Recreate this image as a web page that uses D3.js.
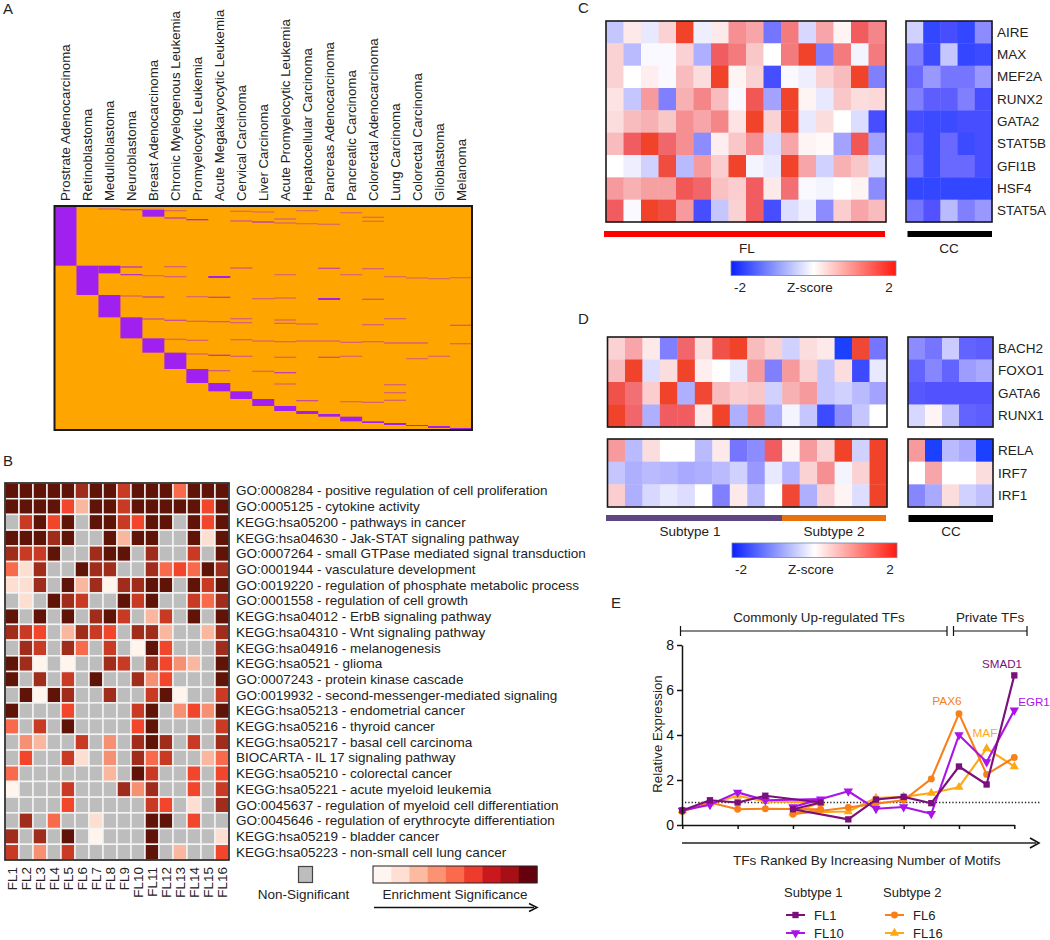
<!DOCTYPE html>
<html><head><meta charset="utf-8">
<script src="https://cdn.jsdelivr.net/npm/d3@7/dist/d3.min.js"></script>
<style>html,body{margin:0;padding:0;background:#fff}svg{display:block}text{font-family:"Liberation Sans",Arial,sans-serif;fill:#222}</style>
</head><body><svg id="c" width="1050" height="940"></svg>
<script>
// ---------- Panel A data ----------
const cancers=["Prostrate Adenocarcinoma","Retinoblastoma","Medulloblastoma","Neuroblastoma","Breast Adenocarcinoma","Chronic Myelogenous Leukemia","Promyelocytic Leukemia","Acute Megakaryocytic Leukemia","Cervical Carcinoma","Liver Carcinoma","Acute Promyelocytic Leukemia","Hepatocellular Carcinoma","Pancreas Adenocarcinoma","Pancreatic Carcinoma","Colorectal Adenocarcinoma","Lung Carcinoma","Colorectal Carcinoma","Glioblastoma","Melanoma"];
const geneRowCount=672;
// [cancer index, first gene row, last gene row]
const geneBlocks=[[0,0,179],[1,179,267],[2,179,202],[2,267,334],[3,334,397],[4,12,32],[4,397,440],[5,440,489],[6,489,531],[7,531,556],[8,556,579],[9,579,600],[10,600,615],[11,615,624],[12,624,632],[13,632,646],[14,646,651],[15,651,657],[16,657,660],[17,660,666],[18,666,671]];
// [cancer index, gene row, membership strength 0-1]
const geneStreaks=[[2,7,.5],[3,9,.8],[4,8,.45],[5,12,.45],[8,14,.45],[9,16,.45],[11,12,.45],[13,18,.45],[14,32,.45],[14,44,.45],[8,43,.6],[9,46,.9],[10,37,.5],[10,49,.5],[11,51,.45],[12,53,.45],[5,34,.8],[6,39,1],
[3,181,.9],[5,180,.5],[8,184,.6],[12,185,.7],[14,186,.5],[13,204,.45],[10,204,.45],[3,204,.9],[4,207,.45],[5,210,.5],[7,210,1.2],[15,210,.45],[16,214,.45],[17,216,.45],[18,213,.45],
[3,268,.5],[4,271,.8],[6,270,.45],[7,272,.8],[9,276,.5],[10,274,.5],[12,276,1.2],[14,278,.6],
[4,337,.7],[5,341,.7],[6,344,.5],[7,345,.6],[8,336,.5],[8,348,.5],[10,340,.5],[10,350,.5],[11,352,.5],[14,354,.5],[15,336,.5],[18,356,.6],
[5,398,.5],[6,401,.5],[8,399,.5],[9,403,.5],[10,405,.5],[11,403,.5],[12,403,.5],[13,407,.5],[14,405,.5],[15,409,.6],[16,409,.6],[18,411,.5],
[6,442,.5],[7,446,.9],[8,449,.5],[10,452,.5],[12,452,.7],[13,449,.45],[16,456,.45],[17,449,.45],
[7,492,.6],[9,494,.5],[10,498,.8],[10,532,.5],[15,534,.5],[15,558,.5],[15,581,.5],[11,582,.7],[13,585,.5],[14,587,.5]];

// ---------- Panel B data ----------
const samplesB=["FL1","FL2","FL3","FL4","FL5","FL6","FL7","FL8","FL9","FL10","FL11","FL12","FL13","FL14","FL15","FL16"];
const termsB=["GO:0008284 - positive regulation of cell proliferation","GO:0005125 - cytokine activity","KEGG:hsa05200 - pathways in cancer","KEGG:hsa04630 - Jak-STAT signaling pathway","GO:0007264 - small GTPase mediated signal transduction","GO:0001944 - vasculature development","GO:0019220 - regulation of phosphate metabolic process","GO:0001558 - regulation of cell growth","KEGG:hsa04012 - ErbB signaling pathway","KEGG:hsa04310 - Wnt signaling pathway","KEGG:hsa04916 - melanogenesis","KEGG:hsa0521 - glioma","GO:0007243 - protein kinase cascade","GO:0019932 - second-messenger-mediated signaling","KEGG:hsa05213 - endometrial cancer","KEGG:hsa05216 - thyroid cancer","KEGG:hsa05217 - basal cell carcinoma","BIOCARTA - IL 17 signaling pathway","KEGG:hsa05210 - colorectal cancer","KEGG:hsa05221 - acute myeloid leukemia","GO:0045637 - regulation of myeloid cell differentiation","GO:0045646 - regulation of erythrocyte differentiation","KEGG:hsa05219 - bladder cancer","KEGG:hsa05223 - non-small cell lung cancer"];
const _=-1; // non-significant
const enrichment=[
[8,8,8,8,8,7,8,8,6,8,8,8,4,8,8,8],
[8,8,8,8,5,2,8,8,6,8,8,8,8,8,5,8],
[_,6,8,5,8,_,8,8,6,5,8,8,_,8,5,8],
[8,8,8,7,8,_,_,8,2,8,8,_,_,8,1,8],
[7,6,6,8,_,_,7,8,8,_,7,_,_,6,_,8],
[4,1,7,_,_,8,7,7,_,_,7,4,5,4,8,7],
[1,1,7,_,8,2,7,0,7,7,8,8,_,8,6,8],
[_,1,_,8,7,6,_,_,8,6,8,_,_,6,4,7],
[8,_,8,_,8,_,7,8,6,_,2,6,_,8,_,8],
[7,6,5,_,2,7,6,5,_,7,7,2,_,_,2,7],
[_,7,6,_,7,4,_,6,_,0,8,5,_,_,_,7],
[8,7,0,_,0,_,_,7,6,_,7,5,3,2,_,8],
[8,_,7,_,6,_,8,_,_,7,3,5,_,_,_,8],
[_,8,0,8,7,_,_,7,_,_,6,8,0,_,_,6],
[8,_,_,_,5,_,_,_,_,6,8,_,3,5,3,8],
[4,_,6,_,8,_,_,_,_,5,8,_,_,_,_,6],
[_,3,2,_,_,6,_,3,_,7,8,7,_,6,_,7],
[_,5,_,_,6,1,_,3,_,7,4,6,_,_,2,4],
[4,_,_,_,_,_,_,2,_,8,6,_,_,5,_,5],
[0,_,_,_,6,_,_,_,7,3,7,_,_,5,_,6],
[_,_,_,_,5,_,_,_,_,_,6,5,_,1,_,7],
[_,7,_,4,_,_,1,_,_,_,8,8,_,5,_,_],
[7,_,7,_,8,_,0,_,_,_,8,_,_,_,_,1],
[6,_,3,_,6,_,_,_,_,_,8,_,2,_,_,5]];
const enrichPalette=["#fff5ed","#fddfd2","#fab79f","#f59072","#f76b4c","#f2462c","#c83a24","#a02c1c","#601407"];
const legendPalette=["#fff5f0","#fee0d2","#fcbba1","#fc9272","#fb6a4a","#ef3b2c","#cb181d","#a50f15","#67000d"];

// ---------- Panel C data ----------
const genesC=["AIRE","MAX","MEF2A","RUNX2","GATA2","STAT5B","GFI1B","HSF4","STAT5A"];
const zFL_C=[
[-.5,.2,-.2,.4,2,-.15,.2,1,.8,-1.2,1.2,-.35,.8,.1,1.5,1.1],
[.4,-.6,-.05,-.05,.4,-.7,1.5,1.2,.5,0,1.2,2,-1.1,1.2,-.1,1.2],
[.4,0,.15,-.05,.6,.3,2,.1,.4,-1.6,-.05,-.15,.4,.6,2,-1.1],
[.25,-.5,.9,-1.1,.7,1.1,.6,-.05,1.6,-.8,2,.1,-.2,.5,.3,.35],
[.3,.6,.7,.5,1,.8,1.1,.25,2,.4,2,-.2,.3,0,-.3,-1.6],
[.6,1.5,2,1.4,1,-1,.15,.5,1,-.3,.8,.1,.05,-.8,1.6,-.8],
[0,-.15,-.4,1.8,-.6,.9,.45,2,-.1,-.2,2,.8,-.4,.7,.5,-.3],
[.9,.7,.85,.85,1.6,1.4,.55,.45,1.5,.2,1.3,-.05,-.1,0,.1,-1],
[1.5,-.05,2,1.8,.9,-1.6,-.5,.4,1.5,-1.6,-.3,-.15,-1,.45,.8,.6]];
const zCC_C=[
[-.4,-1.8,-1.6,-1.8,-1],
[-1.1,-1.7,-.5,-1.8,-1.7],
[-1.3,-.9,-1.2,-1.2,-.9],
[-1.1,-1.4,-1.4,-1.1,-1.6],
[-1.6,-1.7,-1.7,-1.6,-1.6],
[-1.3,-1.7,-1.3,-1.7,-1.6],
[-1.2,-1.7,-1.3,-1.3,-1.6],
[-1.8,-1.8,-1.8,-1.8,-1.8],
[-1.2,-1.5,-.6,-1.1,-.9]];

// ---------- Panel D data ----------
const genesD1=["BACH2","FOXO1","GATA6","RUNX1"];
const genesD2=["RELA","IRF7","IRF1"];
const zFL_D1=[
[.4,.8,.2,-1.1,1.4,.3,1.7,2,.6,.4,-.4,.3,.2,-2,1.9,-1.2],
[.6,2,-.3,.3,2,.15,0,-.2,.9,-1.1,.9,.4,-.5,.3,-1.7,-.2],
[1.7,1.3,.45,2,-.7,1.9,.6,.45,.5,-.4,.7,.9,-.5,-.4,-.6,-.8],
[2,1.4,-.7,1.5,1.5,.2,2,-.7,1.1,-.7,-.1,-.5,-1.7,-1,-.5,0]];
const zCC_D1=[
[-1,-1.2,-.45,-1.35,-1.4],
[-1.35,-1.05,-1.35,-.85,-.75],
[-1.45,-1.5,-1.5,-1.5,-1.5],
[-.35,.1,-.55,-1.35,-1.4]];
const zFL_D2=[
[.9,-.6,.3,0,0,-.6,.2,-1.2,-1,1.5,.1,.9,.4,2,-.4,2],
[-.5,-.7,-.6,-.65,-.75,-.7,-.6,-.4,-.9,-.2,-.65,.4,1,-.1,.4,2],
[.45,-.7,-.35,-.2,-.3,0,-1.1,.2,-.6,0,1.9,-.7,.4,.1,-.3,2]];
const zCC_D2=[
[.9,-2,-.6,-.75,-2],
[0,.8,0,0,.3],
[-1.05,-.75,.3,-.4,-.55]];

// ---------- Panel E data ----------
const tfRank=[0,1,2,3,5,4,6,7,8,9,10,11,12];
const fl16=[.65,.95,1.3,1.05,1,.55,.6,1.2,1.25,1.42,1.68,3.4,2.6];
const fl6=[.6,1,.7,.72,.7,.48,.78,.95,1.1,2.05,4.95,2.25,3];
const fl10=[.65,.9,1.45,1.1,1.15,.8,1.5,.72,.8,.5,4,2.8,5.1];
const fl1=[.65,1.1,1,1.3,1,.7,.25,1.13,1.25,.97,2.6,1.8,6.65];
const yTicksE=[0,2,4,6,8];
const rankTicks=[0,2,4,6,8,10,12];

const svg=d3.select("#c");
const FS=13.5;
const txt=(x,y,s,size,anchor,fill)=>svg.append("text").attr("x",x).attr("y",y).text(s).attr("font-size",size).attr("text-anchor",anchor||"start").style("fill",fill||"#222");
const frame=(x0,y0,x1,y1,w)=>svg.append("rect").attr("x",x0).attr("y",y0).attr("width",x1-x0).attr("height",y1-y0).attr("fill","none").attr("stroke","#1a1a1a").attr("stroke-width",w||2);

// panel letters
[["A",3,14],["B",3,466],["C",578,13],["D",578,324],["E",611,608]].forEach(d=>txt(d[1],d[2],d[0],15));

// ---- Panel A ----
{
 const x=d3.scaleBand().domain(d3.range(cancers.length)).range([54.5,472]);
 const y=d3.scaleLinear().domain([0,geneRowCount]).range([206,430]);
 const g=svg.append("g");
 g.append("rect").attr("x",54.5).attr("y",206).attr("width",417.5).attr("height",224).attr("fill","#ffa500");
 g.selectAll(".b").data(geneBlocks).join("rect").attr("x",d=>x(d[0])).attr("width",x.bandwidth()).attr("y",d=>y(d[1])).attr("height",d=>y(d[2])-y(d[1])).attr("fill","#a020f0");
 g.selectAll(".s").data(geneStreaks).join("rect").attr("x",d=>x(d[0])).attr("width",x.bandwidth()).attr("y",d=>y(d[1])).attr("height",d=>d[2]>1?2:1.3).attr("fill","#a020f0").attr("opacity",d=>Math.min(1,d[2]*.9));
 frame(54.5,206,472,430,2);
 cancers.forEach((c,i)=>svg.append("text").attr("transform",`translate(${x(i)+x.bandwidth()/2+4.5},201) rotate(-90)`).text(c).attr("font-size",13.3));
}

// ---- Panel B ----
{
 const x=d3.scaleBand().domain(samplesB).range([5,229]);
 const y=d3.scaleBand().domain(termsB).range([483,860]);
 const cells=enrichment.flatMap((r,j)=>r.map((v,i)=>({v,s:samplesB[i],t:termsB[j]})));
 svg.append("g").selectAll("rect").data(cells).join("rect").attr("x",d=>x(d.s)).attr("y",d=>y(d.t)).attr("width",x.bandwidth()).attr("height",y.bandwidth())
  .attr("fill",d=>d.v<0?"#bdbdbd":enrichPalette[d.v]).attr("stroke","#f4f4f4").attr("stroke-width",1.5);
 frame(5,483,229,860,1.6);
 termsB.forEach(t=>txt(236,y(t)+y.bandwidth()/2+4.6,t,FS));
 samplesB.forEach(s=>svg.append("text").attr("transform",`translate(${x(s)+x.bandwidth()/2+4.8},867) rotate(-90)`).text(s).attr("font-size",FS).attr("text-anchor","end"));
 svg.append("rect").attr("x",298.5).attr("y",866.5).attr("width",14).attr("height",16).attr("fill","#bdbdbd").attr("stroke","#444").attr("stroke-width",1.2);
 txt(303.5,899,"Non-Significant",FS,"middle");
 const lx=d3.scaleBand().domain(d3.range(legendPalette.length)).range([373,537]);
 svg.append("g").selectAll("rect").data(legendPalette).join("rect").attr("x",(d,i)=>lx(i)).attr("y",866).attr("width",lx.bandwidth()+.5).attr("height",17).attr("fill",d=>d);
 svg.append("rect").attr("x",373).attr("y",866).attr("width",164).attr("height",17).attr("fill","none").attr("stroke","#222").attr("stroke-width",1);
 txt(455,899,"Enrichment Significance",FS,"middle");
 svg.append("line").attr("x1",374).attr("x2",534).attr("y1",907.5).attr("y2",907.5).attr("stroke","#111").attr("stroke-width",1.5);
 svg.append("path").attr("d","M529,903.5L537,907.5L529,911.5").attr("fill","none").attr("stroke","#111").attr("stroke-width",1.5);
}

// ---- Heatmaps ----
const zColor=d3.scaleLinear().domain([-2,-1.5,-1,0,1,1.5,2]).range(["#1c40ff","#5252ff","#8c8cff","#ffffff","#f58f92","#f05c60","#f0432a"]).clamp(true);
function heat(matrix,x0,x1,y0,y1,rowLabels){
 const x=d3.scaleBand().domain(d3.range(matrix[0].length)).range([x0,x1]);
 const y=d3.scaleBand().domain(d3.range(matrix.length)).range([y0,y1]);
 const cells=matrix.flatMap((r,j)=>r.map((v,i)=>({v,i,j})));
 svg.append("g").selectAll("rect").data(cells).join("rect").attr("x",d=>x(d.i)).attr("y",d=>y(d.j)).attr("width",x.bandwidth()+.4).attr("height",y.bandwidth()+.4).attr("fill",d=>zColor(d.v));
 frame(x0,y0,x1,y1,1.6);
 if(rowLabels) rowLabels.forEach((l,j)=>txt(x1+5,y(j)+y.bandwidth()/2+4.6,l,FS));
}
function bar(x0,x1,y0,y1,c){svg.append("rect").attr("x",x0).attr("y",y0).attr("width",x1-x0).attr("height",y1-y0).attr("fill",c);}
function zLegend(id,x0,y0){
 const grad=svg.append("defs").append("linearGradient").attr("id",id);
 [[0,"#0a20ff"],[.5,"#ffffff"],[1,"#ff1a10"]].forEach(s=>grad.append("stop").attr("offset",s[0]).attr("stop-color",s[1]));
 svg.append("rect").attr("x",x0).attr("y",y0).attr("width",165).attr("height",14.5).attr("fill",`url(#${id})`).attr("stroke","#6c8aa8").attr("stroke-width",.8);
 txt(x0+9,y0+31,"-2",FS,"middle");
 txt(x0+79,y0+31,"Z-score",FS,"middle");
 txt(x0+158,y0+31,"2",FS,"middle");
}
heat(zFL_C,606,886,21,222);
heat(zCC_C,906,992,21,222,genesC);
bar(604,885,231,237,"#ff0000");bar(907.5,992,231,237,"#000");
txt(747,253,"FL",FS,"middle");txt(949,253,"CC",FS,"middle");
zLegend("zl1",731,261);

heat(zFL_D1,607.5,887,337,427);
heat(zCC_D1,908,993,337,427,genesD1);
heat(zFL_D2,607.5,887,439,507);
heat(zCC_D2,908,993,439,507,genesD2);
bar(606,782,515,521,"#5e4680");bar(782,886,515,521,"#e8700f");bar(908.5,993,515,522,"#000");
txt(690,536,"Subtype 1",FS,"middle");txt(834,536,"Subtype 2",FS,"middle");txt(951,536,"CC",FS,"middle");
zLegend("zl2",732,543);

// ---- Panel E ----
{
 const x=d3.scaleLinear().domain([0,12]).range([682.3,1014.3]);
 const y=d3.scaleLinear().domain([0,8]).range([825,645]);
 const series=[
  {v:fl16,c:"#ffa816",sym:d3.symbolTriangle},
  {v:fl6,c:"#f8801a",sym:d3.symbolCircle},
  {v:fl10,c:"#aa14e8",sym:"down"},
  {v:fl1,c:"#7b0f7b",sym:d3.symbolSquare}];
 const marker=(sel,sym,c)=>{
  if(sym==="down") sel.attr("d",d3.symbol(d3.symbolTriangle,38)()).attr("fill",c);
  else sel.attr("d",d3.symbol(sym,sym===d3.symbolSquare?40:(sym===d3.symbolCircle?38:36))()).attr("fill",c);
 };
 const line=d3.line().x((d,i)=>x(tfRank[i])).y(d=>y(d));
 svg.append("line").attr("x1",685).attr("x2",1041).attr("y1",y(1)).attr("y2",y(1)).attr("stroke","#222").attr("stroke-width",1.3).attr("stroke-dasharray","1.3,2");
 series.forEach(s=>{
  svg.append("path").attr("d",line(s.v)).attr("fill","none").attr("stroke",s.c).attr("stroke-width",2.1).attr("stroke-linejoin","round");
  svg.append("g").selectAll("path").data(s.v).join("path").call(marker,s.sym,s.c)
   .attr("transform",(d,i)=>`translate(${x(tfRank[i])},${y(d)})`+(s.sym==="down"?" rotate(180)":""));
 });
 const ay=svg.append("g").attr("transform","translate(682,0)").call(d3.axisLeft(y).tickValues(yTicksE).tickSize(5).tickSizeOuter(0).tickFormat(d3.format("d")));
 ay.selectAll("text").attr("font-size",14).style("font-family",'"Liberation Sans"').style("fill","#111");
 const ax=svg.append("g").attr("transform","translate(0,825)").call(d3.axisBottom(x).tickValues(rankTicks).tickSize(4).tickSizeOuter(0).tickFormat(""));
 [ay,ax].forEach(a=>a.selectAll("path,line").attr("stroke","#111").attr("stroke-width",1.5));
 svg.append("text").attr("transform","translate(661.5,734) rotate(-90)").text("Relative Expression").attr("text-anchor","middle").attr("font-size",13.3);
 const bracket=(a,b)=>svg.append("path").attr("d",`M${a},626V636M${a},631H${b}M${b},626V636`).attr("fill","none").attr("stroke","#111").attr("stroke-width",1.2);
 bracket(680.5,947);bracket(953.5,1027);
 txt(819,622,"Commonly Up-regulated TFs",13.4,"middle");txt(990,622,"Private TFs",13.4,"middle");
 svg.append("line").attr("x1",682).attr("x2",1036).attr("y1",843).attr("y2",843).attr("stroke","#222").attr("stroke-width",1.6);
 svg.append("path").attr("d","M1030,838L1039,843L1030,848").attr("fill","none").attr("stroke","#111").attr("stroke-width",1.6);
 txt(733,865,"TFs Ranked By Increasing Number of Motifs",13.6);
 txt(1002,668,"SMAD1",11.6,"middle","#7b0f7b");
 txt(947,705,"PAX6",11.8,"middle","#f8801a");
 txt(985,737,"MAF",11.8,"middle","#ffa816");
 txt(1034,706,"EGR1",11.6,"middle","#aa14e8");
 txt(784,897,"Subtype 1",13);txt(883,897,"Subtype 2",13);
 const items=[[786,915,"FL1",series[3]],[786,933,"FL10",series[2]],[885,915,"FL6",series[1]],[885,933,"FL16",series[0]]];
 items.forEach(it=>{
  svg.append("line").attr("x1",it[0]).attr("x2",it[0]+19).attr("y1",it[1]).attr("y2",it[1]).attr("stroke",it[3].c).attr("stroke-width",2);
  svg.append("path").call(marker,it[3].sym,it[3].c).attr("transform",`translate(${it[0]+9.5},${it[1]})`+(it[3].sym==="down"?" rotate(180)":""));
  txt(it[0]+28,it[1]+4.5,it[2],13);
 });
}
</script></body></html>
